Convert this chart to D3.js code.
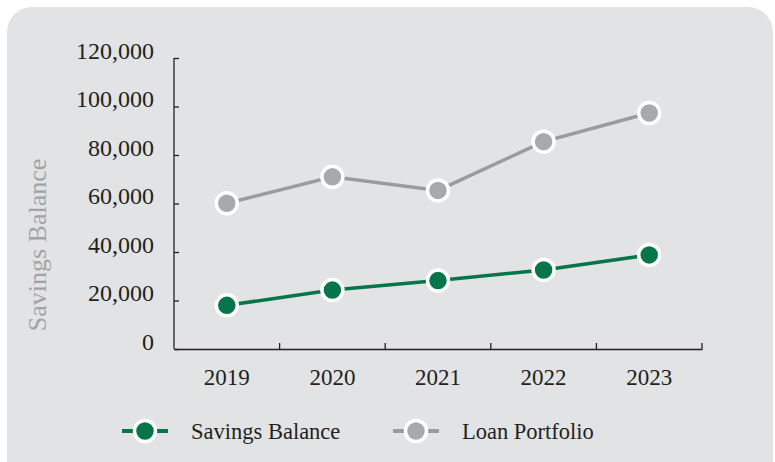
<!DOCTYPE html>
<html>
<head>
<meta charset="utf-8">
<script src="https://cdn.jsdelivr.net/npm/d3@7"></script>
<style>
  body { margin: 0; background: #fff; }
  text { font-family: "Liberation Serif", "Times New Roman", serif; fill: #231f20; }
  .axis path, .axis line { stroke: #231f20; stroke-width: 1.3; }
</style>
</head>
<body>
<div class="chart"></div>
<script>
// data
var years = ["2019", "2020", "2021", "2022", "2023"];
var savings = [18000, 24300, 28200, 32600, 38800];
var loans = [60100, 71000, 65400, 85500, 97300];
var yTicks = [0, 20000, 40000, 60000, 80000, 100000, 120000];

var margin = {top: 58, right: 73, bottom: 113, left: 174},
    width = 775 - margin.left - margin.right,
    height = 462 - margin.top - margin.bottom;

var svg = d3.select(".chart").append("svg")
    .attr("width", 775)
    .attr("height", 462);

// card background
svg.append("rect")
    .attr("x", 7).attr("y", 7)
    .attr("width", 766).attr("height", 480)
    .attr("rx", 25).attr("ry", 25)
    .attr("fill", "#e2e3e5");

var g = svg.append("g")
    .attr("transform", "translate(" + margin.left + "," + margin.top + ")");

var x = d3.scaleBand().domain(years).range([0, width]);
var y = d3.scaleLinear().domain([0, 120000]).range([height, 0]);

// x axis, ticks on band edges pointing up
var xa = g.append("g")
    .attr("class", "x axis")
    .attr("transform", "translate(0," + height + ")")
    .call(d3.axisBottom(x).tickSize(0).tickSizeOuter(0).tickPadding(0));
xa.selectAll("text")
    .attr("dy", 0)
    .attr("y", 36)
    .style("font-size", "23px");
xa.selectAll(".edge")
    .data(years.slice(1).concat(["end"]))
    .enter().append("line")
    .attr("class", "edge")
    .attr("x1", function(d, i) { return x.step() * (i + 1); })
    .attr("x2", function(d, i) { return x.step() * (i + 1); })
    .attr("y1", 0).attr("y2", -6);

// y axis, ticks pointing right
var ya = g.append("g")
    .attr("class", "y axis")
    .call(d3.axisLeft(y).tickValues(yTicks).tickSize(-5).tickSizeOuter(0)
        .tickFormat(d3.format(",")));
ya.select(".domain").attr("d", "M0," + height + "V0");
ya.selectAll("text")
    .attr("x", -20)
    .attr("dy", 0)
    .style("font-size", "24px");

svg.append("text")
    .attr("transform", "translate(46,245) rotate(-90)")
    .attr("text-anchor", "middle")
    .style("font-size", "26px")
    .style("fill", "#a3a3a5")
    .text("Savings Balance");

var line = d3.line()
    .x(function(d, i) { return x(years[i]) + x.bandwidth() / 2; })
    .y(function(d) { return y(d); });

var series = [
  {name: "Loan Portfolio", values: loans, stroke: "#9b9b9d", fill: "#a8a9ab"},
  {name: "Savings Balance", values: savings, stroke: "#06754a", fill: "#06754a"}
];

series.forEach(function(s) {
  g.append("path")
      .datum(s.values)
      .attr("fill", "none")
      .attr("stroke", s.stroke)
      .attr("stroke-width", 3.5)
      .attr("d", line);
  g.selectAll(".dot-" + s.name.replace(" ", ""))
      .data(s.values)
    .enter().append("circle")
      .attr("cx", function(d, i) { return x(years[i]) + x.bandwidth() / 2; })
      .attr("cy", function(d) { return y(d); })
      .attr("r", 10.5)
      .attr("fill", s.fill)
      .attr("stroke", "#fff")
      .attr("stroke-width", 3.5);
});

// legend
var legend = [
  {name: "Savings Balance", color: "#06754a", x: 145},
  {name: "Loan Portfolio", color: "#a8a9ab", x: 416, stroke: "#9b9b9d"}
];
var lg = svg.selectAll(".legend")
    .data(legend)
  .enter().append("g")
    .attr("class", "legend")
    .attr("transform", function(d) { return "translate(" + d.x + ",431)"; });
lg.append("line")
    .attr("x1", -23).attr("x2", 23)
    .attr("stroke", function(d) { return d.stroke || d.color; })
    .attr("stroke-width", 4);
lg.append("circle")
    .attr("r", 10.5)
    .attr("fill", function(d) { return d.color; })
    .attr("stroke", "#fff")
    .attr("stroke-width", 3.5);
lg.append("text")
    .attr("x", 46)
    .attr("y", 8)
    .style("font-size", "22.5px")
    .text(function(d) { return d.name; });
</script>
</body>
</html>
